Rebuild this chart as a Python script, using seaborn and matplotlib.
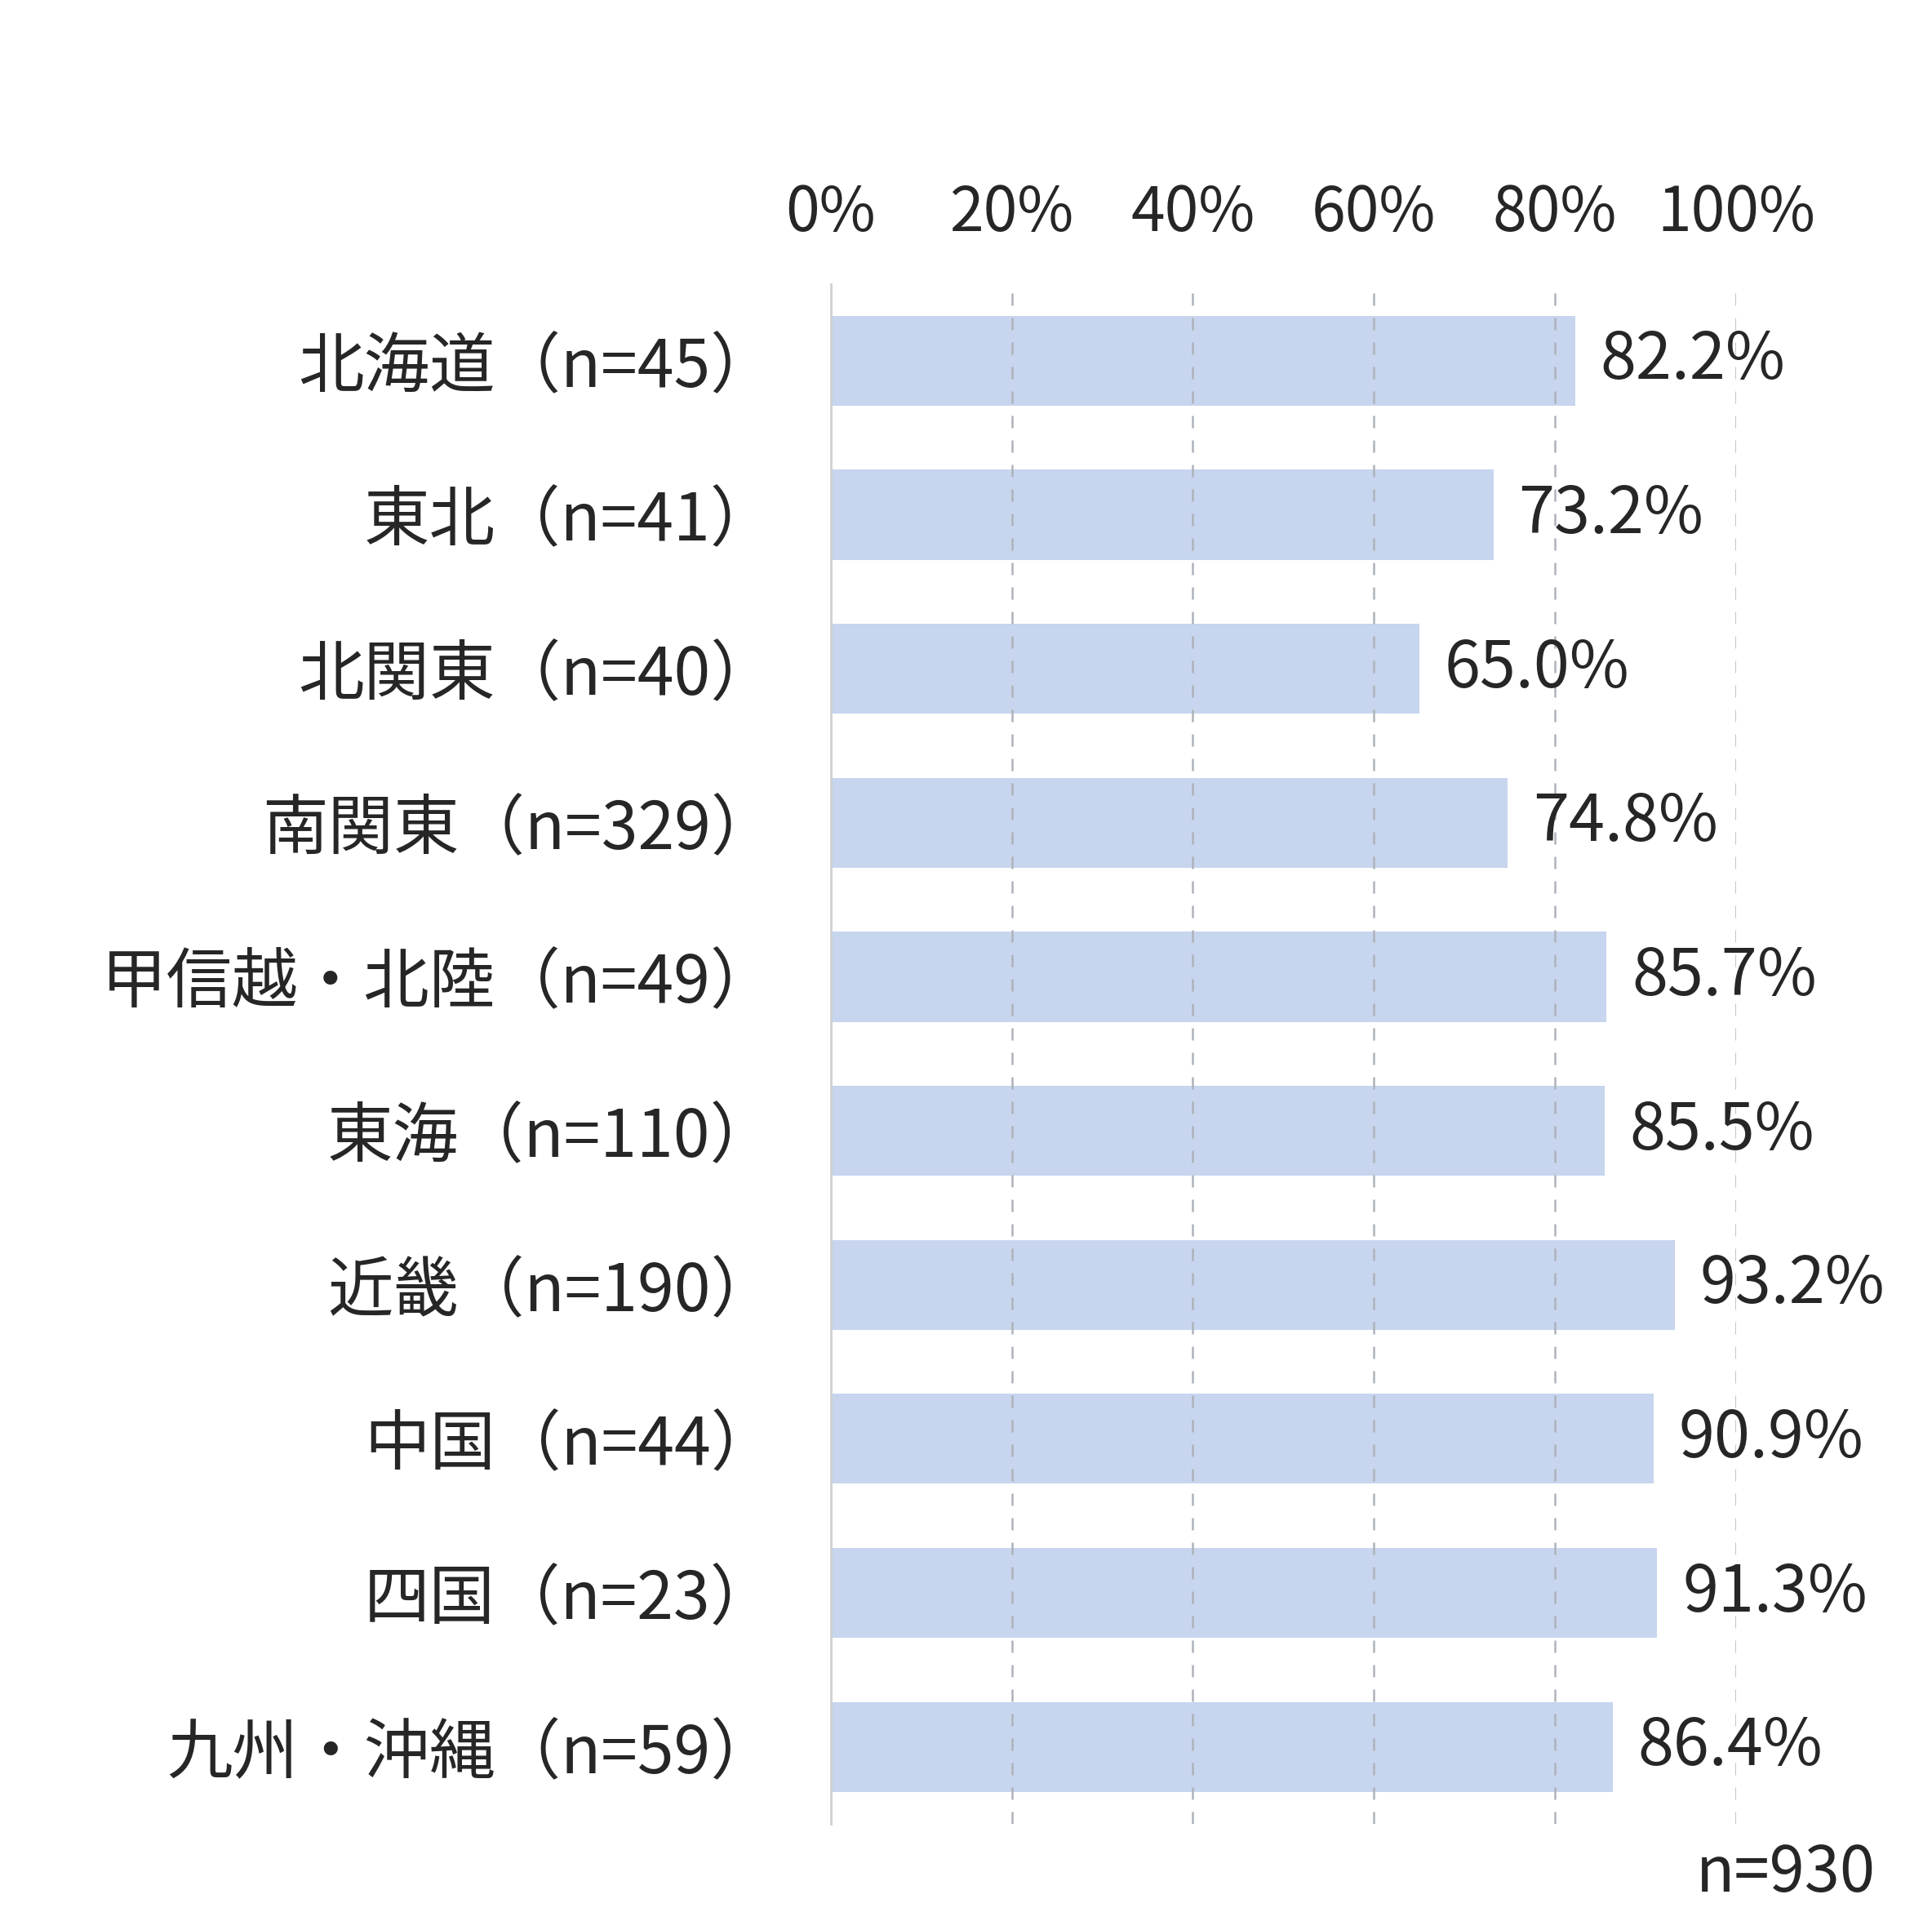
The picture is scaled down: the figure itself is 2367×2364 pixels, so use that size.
import matplotlib
matplotlib.use("Agg")
import matplotlib.pyplot as plt
import seaborn as sns
import pandas as pd

regions = ["北海道（n=45）", "東北（n=41）", "北関東（n=40）", "南関東（n=329）",
           "甲信越・北陸（n=49）", "東海（n=110）", "近畿（n=190）", "中国（n=44）",
           "四国（n=23）", "九州・沖縄（n=59）"]
values = [82.2, 73.2, 65.0, 74.8, 85.7, 85.5, 93.2, 90.9, 91.3, 86.4]
tick_values = [0, 20, 40, 60, 80, 100]
tick_labels = ["0%", "20%", "40%", "60%", "80%", "100%"]
note = "n=930"

sns.set_theme(style="white")
plt.rcParams['font.family'] = ['Noto Sans CJK JP', 'DejaVu Sans']

df = pd.DataFrame({"region": regions, "value": values})

fig = plt.figure(figsize=(23.67, 23.64), dpi=100)
ax = fig.add_axes([0.430, 0.055, 0.4686, 0.798])

sns.barplot(data=df, x="value", y="region", orient="h", color="#C7D5EE",
            saturation=1, width=0.584, ax=ax, edgecolor="none", linewidth=0)

ax.set_xlim(0, 100)
ax.set_ylim(9.5, -0.5)
ax.set_xlabel("")
ax.set_ylabel("")

ax.xaxis.tick_top()
ax.set_xticks(tick_values)
ax.set_xticklabels(tick_labels, fontsize=54)
ax.tick_params(axis="x", length=0, pad=34)
ax.tick_params(axis="y", length=0, pad=48, labelsize=58)

for s in ["top", "right", "bottom"]:
    ax.spines[s].set_visible(False)
ax.spines["left"].set_color("#D0D0D0")
ax.spines["left"].set_linewidth(2)

ax.set_axisbelow(False)
ax.grid(axis="x", color="#AEB2BA", linestyle=(0, (6, 6)), linewidth=1.8)
ax.grid(axis="y", visible=False)
ax.xaxis.get_gridlines()[0].set_visible(False)

ax.bar_label(ax.containers[0], labels=[f"{v:.1f}%" for v in values],
             padding=22, fontsize=57, clip_on=False)

fig.text(0.971, 0.029, note, ha="right", va="center", fontsize=56)

fig.savefig("out.png", dpi=100, facecolor="white")
